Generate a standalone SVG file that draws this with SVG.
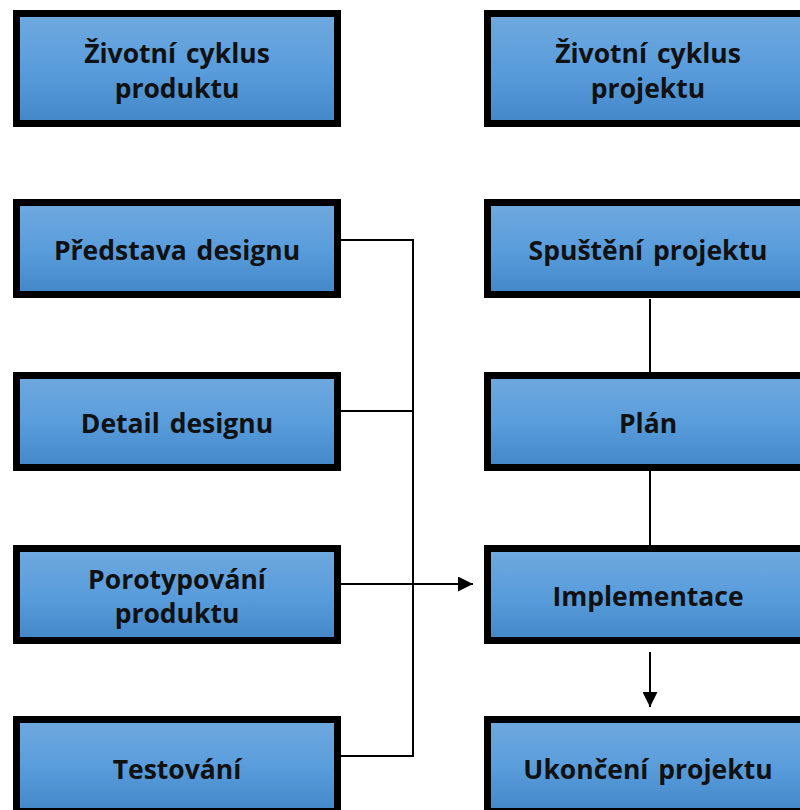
<svg xmlns="http://www.w3.org/2000/svg" width="800" height="810" viewBox="0 0 800 810">
<defs>
<linearGradient id="g" x1="0" y1="0" x2="0" y2="1">
<stop offset="0" stop-color="#6fa9de"/>
<stop offset="0.5" stop-color="#5a9ddc"/>
<stop offset="1" stop-color="#4487c9"/>
</linearGradient>
<marker id="ah" viewBox="0 0 10 10" refX="10" refY="5" markerWidth="7.5" markerHeight="7.5" markerUnits="strokeWidth" orient="auto">
<path d="M0,0 L10,5 L0,10 z" fill="#000"/>
</marker>
<style>
.box{fill:url(#g);stroke:#000;stroke-width:7}
.t{font-family:"Open Sans","DejaVu Sans",sans-serif;font-weight:700;font-size:26.5px;fill:#111;text-anchor:middle;word-spacing:3px}
.c{fill:none;stroke:#000;stroke-width:2}
</style>
</defs>
<g id="connectors">
<path class="c" d="M341,240 H413 V756 H341"/>
<path class="c" d="M341,411 H413"/>
<path class="c" d="M341,584 H413"/>
<path class="c" d="M413,584 H473" marker-end="url(#ah)"/>
<path class="c" d="M650,299 V372"/>
<path class="c" d="M650,470 V545"/>
<path class="c" d="M650,652 V707" marker-end="url(#ah)"/>
</g>
<g id="n1"><rect class="box" x="16.5" y="13.5" width="321" height="110"/><text class="t" x="177" y="63">Životní cyklus</text><text class="t" x="177" y="98">produktu</text></g>
<g id="n2"><rect class="box" x="487.5" y="13.5" width="321" height="110"/><text class="t" x="648" y="63">Životní cyklus</text><text class="t" x="648" y="98">projektu</text></g>
<g id="n3"><rect class="box" x="16.5" y="202.5" width="321" height="92"/><text class="t" x="177" y="260">Představa designu</text></g>
<g id="n4"><rect class="box" x="16.5" y="375.5" width="321" height="92"/><text class="t" x="177" y="433">Detail designu</text></g>
<g id="n5"><rect class="box" x="16.5" y="548.5" width="321" height="92"/><text class="t" x="177" y="589">Porotypování</text><text class="t" x="177" y="623">produktu</text></g>
<g id="n6"><rect class="box" x="16.5" y="719.5" width="321" height="92"/><text class="t" x="177" y="779">Testování</text></g>
<g id="n7"><rect class="box" x="487.5" y="202.5" width="321" height="92"/><text class="t" x="648" y="260">Spuštění projektu</text></g>
<g id="n8"><rect class="box" x="487.5" y="375.5" width="321" height="92"/><text class="t" x="648" y="433">Plán</text></g>
<g id="n9"><rect class="box" x="487.5" y="548.5" width="321" height="92"/><text class="t" x="648" y="606">Implementace</text></g>
<g id="n10"><rect class="box" x="487.5" y="719.5" width="321" height="92"/><text class="t" x="648" y="779">Ukončení projektu</text></g>
</svg>
